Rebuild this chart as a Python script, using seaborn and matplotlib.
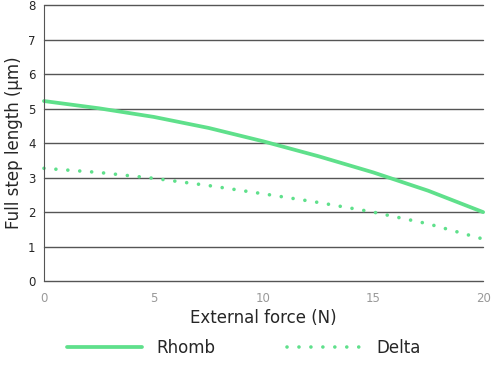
import seaborn as sns
import matplotlib.pyplot as plt
import pandas as pd

force = [0, 2.5, 5, 7.5, 10, 12.5, 15, 17.5, 20]
rhomb = [5.22, 5.01, 4.76, 4.44, 4.05, 3.62, 3.15, 2.62, 2.0]
delta = [3.27, 3.15, 2.98, 2.77, 2.53, 2.28, 2.0, 1.66, 1.22]

green = '#5fe08b'

sns.set_style('white')
plt.rcParams['font.family'] = ['DejaVu Sans']

df = pd.DataFrame({'force': force * 2,
                   'length': rhomb + delta,
                   'series': ['Rhomb'] * len(force) + ['Delta'] * len(force)})

fig = plt.figure(figsize=(4.94, 3.67), dpi=100)
ax = fig.add_axes([0.089, 0.234, 0.889, 0.752])

sns.lineplot(data=df[df.series == 'Rhomb'], x='force', y='length', ax=ax,
             color=green, linewidth=2.7, label='Rhomb')
sns.lineplot(data=df[df.series == 'Delta'], x='force', y='length', ax=ax,
             color=green, linewidth=2.6, linestyle=(0, (0.01, 3.3)),
             dash_capstyle='round', label='Delta')
for line in ax.lines:
    line.set_clip_on(False)

ax.set_xlim(0, 20)
ax.set_ylim(0, 8)
ax.set_xticks([0, 5, 10, 15, 20])
ax.set_yticks(range(9))
ax.yaxis.grid(True, color='#555555', linewidth=1)
ax.set_axisbelow(True)
for gl in ax.yaxis.get_gridlines():
    gl.set_clip_on(False)
for s in ['top', 'right', 'bottom']:
    ax.spines[s].set_visible(False)
ax.spines['left'].set_color('#555555')
ax.tick_params(axis='y', length=4, color='#555555', labelsize=8.5, pad=2)
ax.tick_params(axis='x', length=0, labelcolor='#999999', labelsize=8.5, pad=8)

ax.set_xlabel('External force (N)', fontsize=12, labelpad=3)
ax.set_ylabel('Full step length (μm)', fontsize=12)

ax.get_legend().remove()
handles, labels = ax.get_legend_handles_labels()
fig.legend(handles, labels, loc='center', bbox_to_anchor=(0.494, 0.052), ncol=2,
           frameon=False, fontsize=12, handlelength=4.5, handletextpad=0.85,
           columnspacing=4.3)

fig.savefig('out.png', dpi=100)
